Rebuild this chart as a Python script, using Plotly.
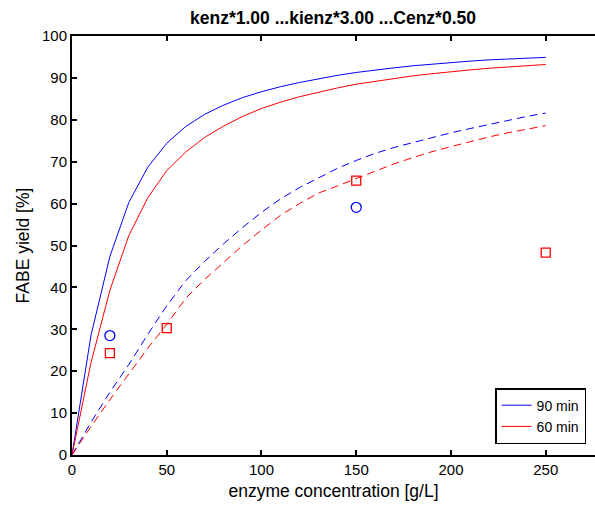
import plotly.graph_objects as go

# enzyme concentration grid for model curves [g/L]
x_model = [0, 10, 20, 30, 40, 50, 60, 70, 80, 90, 100, 110, 120, 130, 140, 150,
           160, 170, 180, 190, 200, 210, 220, 230, 240, 250]

# solid curves
y90_solid = [0, 28.5, 47.4, 60.3, 68.7, 74.4, 78.4, 81.3, 83.5, 85.3, 86.7, 87.9, 88.9,
             89.8, 90.6, 91.3, 91.9, 92.4, 92.9, 93.3, 93.7, 94.0, 94.3, 94.5, 94.7, 94.9]
y60_solid = [0, 22.0, 39.3, 52.4, 61.4, 67.9, 72.3, 75.8, 78.5, 80.8, 82.7, 84.2, 85.5,
             86.6, 87.6, 88.5, 89.2, 89.9, 90.5, 91.0, 91.5, 91.9, 92.3, 92.6, 92.9, 93.2]

# dashed curves
y90_dash = [0, 7.8, 15.0, 21.6, 28.8, 35.6, 41.6, 46.2, 50.4, 54.3, 57.9, 61.1, 63.8,
            66.2, 68.4, 70.3, 72.0, 73.4, 74.6, 75.8, 76.9, 77.9, 78.9, 79.9, 80.8, 81.6]
y60_dash = [0, 6.8, 13.2, 19.5, 25.5, 31.2, 37.4, 41.9, 46.0, 50.0, 53.7, 57.2, 60.0,
            62.5, 64.2, 66.0, 67.8, 69.5, 71.0, 72.4, 73.6, 74.8, 75.9, 76.9, 77.8, 78.6]

# experimental points
x_exp90 = [20, 150]
y_exp90 = [28.5, 59.1]
x_exp60 = [20, 50, 150, 250]
y_exp60 = [24.3, 30.3, 65.5, 48.3]

x_ticks = [0, 50, 100, 150, 200, 250]
y_ticks = [0, 10, 20, 30, 40, 50, 60, 70, 80, 90, 100]

BLUE = "rgb(0,0,255)"
RED = "rgb(255,0,0)"
FONT = "Liberation Sans, Arial, sans-serif"

fig = go.Figure()
fig.add_trace(go.Scatter(x=x_model, y=y90_solid, mode="lines", name="90 min",
                         line=dict(color=BLUE, width=1)))
fig.add_trace(go.Scatter(x=x_model, y=y60_solid, mode="lines", name="60 min",
                         line=dict(color=RED, width=1)))
fig.add_trace(go.Scatter(x=x_model, y=y90_dash, mode="lines", showlegend=False,
                         line=dict(color=BLUE, width=1, dash="8px,5px")))
fig.add_trace(go.Scatter(x=x_model, y=y60_dash, mode="lines", showlegend=False,
                         line=dict(color=RED, width=1, dash="8px,5px")))
fig.add_trace(go.Scatter(x=x_exp90, y=y_exp90, mode="markers", showlegend=False,
                         marker=dict(symbol="circle-open", size=10, color=BLUE,
                                     line=dict(width=1.3, color=BLUE))))
fig.add_trace(go.Scatter(x=x_exp60, y=y_exp60, mode="markers", showlegend=False,
                         marker=dict(symbol="square-open", size=9, color=RED,
                                     line=dict(width=1.3, color=RED))))

fig.update_layout(
    width=595, height=506,
    margin=dict(l=72, r=0, t=36, b=51),
    paper_bgcolor="white", plot_bgcolor="white",
    font=dict(family=FONT, size=15, color="black"),
    title=dict(text="<b>kenz*1.00 ...kienz*3.00 ...Cenz*0.50</b>",
               font=dict(family=FONT, size=17.5, color="black"),
               x=333 / 595, xanchor="center", y=1 - 18 / 506, yanchor="middle"),
    showlegend=True,
    legend=dict(x=0.983, xanchor="right", y=0.026, yanchor="bottom",
                bgcolor="white", bordercolor="black", borderwidth=1.5,
                font=dict(family=FONT, size=14, color="black"),
                tracegroupgap=0, itemwidth=30),
)
fig.update_xaxes(range=[0, 276], tickvals=x_ticks, ticks="inside", ticklen=5,
                 tickwidth=1.5, tickcolor="black", showline=True, linewidth=2,
                 linecolor="black", mirror="ticks", showgrid=False, zeroline=False,
                 tickfont=dict(size=15),
                 title=dict(text="enzyme concentration [g/L]", standoff=8,
                            font=dict(family=FONT, size=17.5)))
fig.update_yaxes(range=[0, 100], tickvals=y_ticks, ticks="inside", ticklen=5,
                 tickwidth=1.5, tickcolor="black", showline=True, linewidth=2,
                 linecolor="black", mirror=False, showgrid=False, zeroline=False,
                 tickfont=dict(size=15),
                 title=dict(text="FABE yield [%]", standoff=8,
                            font=dict(family=FONT, size=17.5)))

fig.write_html("out.html")
